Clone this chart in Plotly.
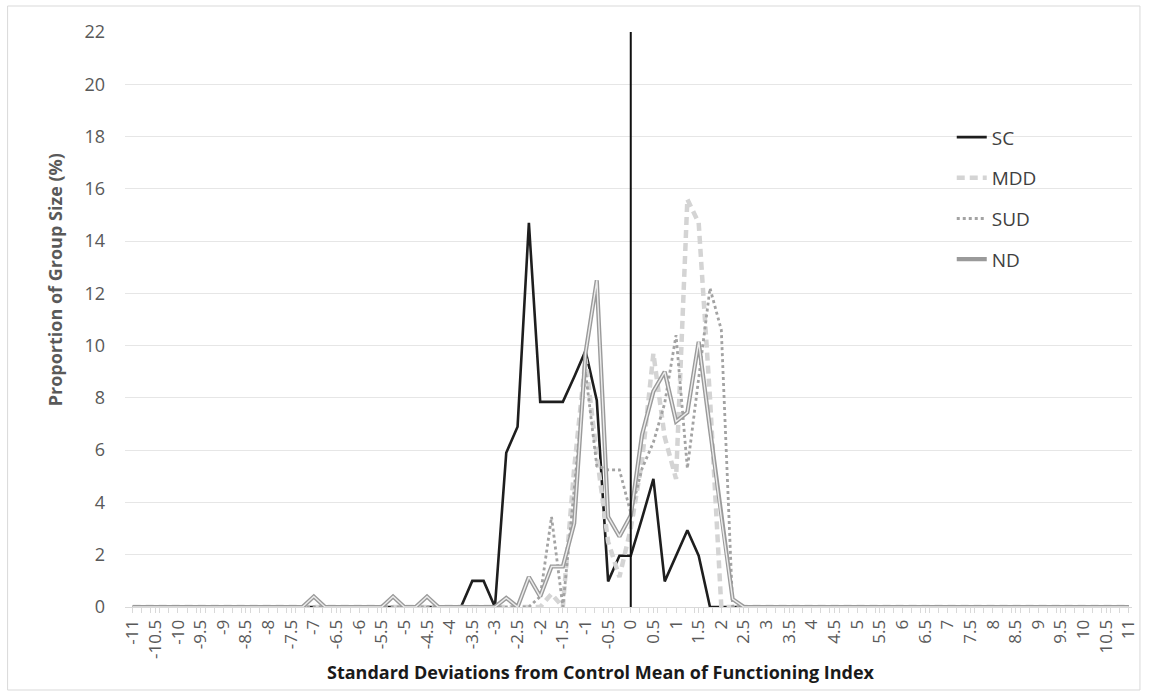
import plotly.graph_objects as go

# Standard deviations from control mean (category positions, step 0.25)
sd = [-11, -10.75, -10.5, -10.25, -10, -9.75, -9.5, -9.25, -9, -8.75, -8.5, -8.25,
      -8, -7.75, -7.5, -7.25, -7, -6.75, -6.5, -6.25, -6, -5.75, -5.5, -5.25,
      -5, -4.75, -4.5, -4.25, -4, -3.75, -3.5, -3.25, -3, -2.75, -2.5, -2.25,
      -2, -1.75, -1.5, -1.25, -1, -0.75, -0.5, -0.25, 0, 0.25, 0.5, 0.75,
      1, 1.25, 1.5, 1.75, 2, 2.25, 2.5, 2.75, 3, 3.25, 3.5, 3.75,
      4, 4.25, 4.5, 4.75, 5, 5.25, 5.5, 5.75, 6, 6.25, 6.5, 6.75,
      7, 7.25, 7.5, 7.75, 8, 8.25, 8.5, 8.75, 9, 9.25, 9.5, 9.75,
      10, 10.25, 10.5, 10.75, 11]

# Proportion of group size (%) per series
sc = [0, 0, 0, 0, 0, 0, 0, 0, 0, 0, 0, 0,
      0, 0, 0, 0, 0, 0, 0, 0, 0, 0, 0, 0,
      0, 0, 0, 0, 0, 0, 1.0, 1.0, 0, 5.9, 6.9, 14.7,
      7.85, 7.85, 7.85, 8.8, 9.8, 7.9, 0.98, 1.96, 1.96, 3.4, 4.9, 0.98,
      1.96, 2.94, 1.96, 0, 0, 0, 0, 0, 0, 0, 0, 0,
      0, 0, 0, 0, 0, 0, 0, 0, 0, 0, 0, 0,
      0, 0, 0, 0, 0, 0, 0, 0, 0, 0, 0, 0,
      0, 0, 0, 0, 0]

mdd = [0, 0, 0, 0, 0, 0, 0, 0, 0, 0, 0, 0,
       0, 0, 0, 0, 0, 0, 0, 0, 0, 0, 0, 0,
       0, 0, 0, 0, 0, 0, 0, 0, 0, 0, 0, 0,
       0, 0.5, 0, 5.3, 9.5, 5.8, 2.5, 1.15, 3.0, 5.6, 9.7, 6.5,
       4.9, 15.6, 14.7, 8.0, 0, 0, 0, 0, 0, 0, 0, 0,
       0, 0, 0, 0, 0, 0, 0, 0, 0, 0, 0, 0,
       0, 0, 0, 0, 0, 0, 0, 0, 0, 0, 0, 0,
       0, 0, 0, 0, 0]

sud = [0, 0, 0, 0, 0, 0, 0, 0, 0, 0, 0, 0,
       0, 0, 0, 0, 0, 0, 0, 0, 0, 0, 0, 0,
       0, 0, 0, 0, 0, 0, 0, 0, 0, 0, 0, 0,
       0.4, 3.45, 0, 4.6, 9.0, 5.4, 5.25, 5.25, 3.6, 5.3, 6.3, 7.8,
       10.4, 5.3, 8.8, 12.2, 10.6, 0, 0, 0, 0, 0, 0, 0,
       0, 0, 0, 0, 0, 0, 0, 0, 0, 0, 0, 0,
       0, 0, 0, 0, 0, 0, 0, 0, 0, 0, 0, 0,
       0, 0, 0, 0, 0]

nd = [0, 0, 0, 0, 0, 0, 0, 0, 0, 0, 0, 0,
      0, 0, 0, 0, 0.4, 0, 0, 0, 0, 0, 0, 0.4,
      0, 0, 0.4, 0, 0, 0, 0, 0, 0, 0.35, 0, 1.15,
      0.4, 1.55, 1.55, 3.2, 9.7, 12.5, 3.45, 2.7, 3.5, 6.6, 8.25, 9.0,
      7.1, 7.45, 10.15, 6.8, 3.4, 0.3, 0, 0, 0, 0, 0, 0,
      0, 0, 0, 0, 0, 0, 0, 0, 0, 0, 0, 0,
      0, 0, 0, 0, 0, 0, 0, 0, 0, 0, 0, 0,
      0, 0, 0, 0, 0]

tick_vals = [-11, -10.5, -10, -9.5, -9, -8.5, -8, -7.5, -7, -6.5, -6, -5.5, -5, -4.5,
             -4, -3.5, -3, -2.5, -2, -1.5, -1, -0.5, 0, 0.5, 1, 1.5, 2, 2.5, 3, 3.5,
             4, 4.5, 5, 5.5, 6, 6.5, 7, 7.5, 8, 8.5, 9, 9.5, 10, 10.5, 11]
tick_text = ["-11", "-10.5", "-10", "-9.5", "-9", "-8.5", "-8", "-7.5", "-7", "-6.5",
             "-6", "-5.5", "-5", "-4.5", "-4", "-3.5", "-3", "-2.5", "-2", "-1.5",
             "-1", "-0.5", "0", "0.5", "1", "1.5", "2", "2.5", "3", "3.5", "4", "4.5",
             "5", "5.5", "6", "6.5", "7", "7.5", "8", "8.5", "9", "9.5", "10", "10.5", "11"]

FONT = "Open Sans"

fig = go.Figure()
fig.add_trace(go.Scatter(x=sd, y=sc, mode="lines", name="SC", legendgroup="SC",
                         line=dict(color="#1e1e1e", width=2.6)))
fig.add_trace(go.Scatter(x=sd, y=mdd, mode="lines", name="MDD", legendgroup="MDD",
                         line=dict(color="#d4d4d4", width=4.5, dash="8px,5px")))
fig.add_trace(go.Scatter(x=sd, y=sud, mode="lines", name="SUD", legendgroup="SUD",
                         line=dict(color="#a3a3a3", width=2.8, dash="dot")))
fig.add_trace(go.Scatter(x=sd, y=nd, mode="lines", name="ND", legendgroup="ND",
                         line=dict(color="#9a9a9a", width=4.2)))
fig.add_trace(go.Scatter(x=sd, y=nd, mode="lines", name="ND", legendgroup="ND",
                         showlegend=False, hoverinfo="skip",
                         line=dict(color="#ececec", width=1.4)))

fig.add_shape(type="line", xref="x", yref="y", x0=0, x1=0, y0=0, y1=22,
              line=dict(color="#111111", width=2), layer="above")

W, H = 1151, 696
ML, MR, MT, MB = 125, 14, 32, 89
PW, PH = W - ML - MR, H - MT - MB


def px(xp):
    return (xp - ML) / PW


def py(yp):
    return (H - MB - yp) / PH


# outer chart border
fig.add_shape(type="rect", xref="paper", yref="paper",
              x0=px(7), x1=px(1145), y0=py(690), y1=py(6),
              line=dict(color="#d9d9d9", width=1), layer="below")

fig.update_layout(
    width=W, height=H,
    margin=dict(l=ML, r=MR, t=MT, b=MB),
    paper_bgcolor="white", plot_bgcolor="white",
    font=dict(family=FONT, color="#595959"),
    showlegend=True,
    legend=dict(x=0.821, y=0.85, xanchor="left", yanchor="top",
                font=dict(family=FONT, size=19, color="#404040"),
                tracegroupgap=13, bgcolor="rgba(0,0,0,0)"),
    xaxis=dict(range=[-11.17, 11.07], tickmode="array", tickvals=tick_vals,
               ticktext=tick_text, tickangle=-90, showgrid=False, zeroline=False,
               showline=True, linecolor="#d9d9d9", linewidth=1,
               ticks="outside", ticklen=5, tickcolor="#d9d9d9",
               tickfont=dict(family=FONT, size=17, color="#595959"),
               minor=dict(tickmode="linear", tick0=-11, dtick=0.2, ticks="outside",
                          ticklen=5, tickcolor="#d9d9d9", showgrid=False)),
    yaxis=dict(range=[0, 22], dtick=2, tick0=0, showgrid=True, gridcolor="#e6e6e6",
               gridwidth=1, zeroline=False, showline=False, ticks="",
               ticklabelstandoff=19,
               tickfont=dict(family=FONT, size=18, color="#595959")),
    annotations=[
        dict(text="<b>Proportion of Group Size (%)</b>", xref="paper", yref="paper",
             x=px(55), y=py(280), textangle=-90, showarrow=False,
             xanchor="center", yanchor="middle",
             font=dict(family=FONT, size=18, color="#595959")),
        dict(text="<b>Standard Deviations from Control Mean of Functioning Index</b>",
             xref="paper", yref="paper", x=px(603), y=py(672),
             showarrow=False, xanchor="center", yanchor="middle",
             font=dict(family=FONT, size=18, color="#1a1a1a")),
    ],
)

fig.write_html("out.html",
               config={"displayModeBar": False},
               post_script="document.body.style.margin='0';"
                           "document.body.style.overflow='hidden';"
                           "document.documentElement.style.overflow='hidden';")
